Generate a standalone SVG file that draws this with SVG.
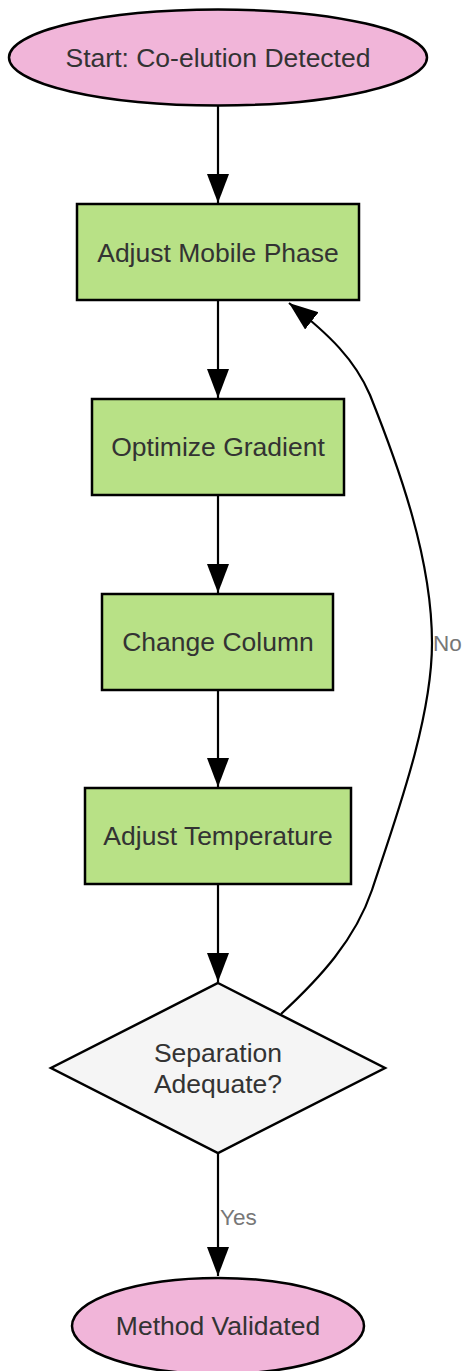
<svg xmlns="http://www.w3.org/2000/svg" width="464" height="1371" viewBox="0 0 464 1371">
<style>
.term{fill:#F1B5D9;stroke:#000;stroke-width:2.5}
.proc{fill:#B8E186;stroke:#000;stroke-width:2.5}
.dec{fill:#F5F5F5;stroke:#000;stroke-width:2.5}
.t{font-family:"Liberation Sans",Arial,sans-serif;font-size:26.5px;fill:#333;text-anchor:middle}
.lbl{font-family:"Liberation Sans",Arial,sans-serif;font-size:22.5px;fill:#777}
.edge{fill:none;stroke:#000;stroke-width:2.2}
</style>
<defs>
<marker id="ah" markerUnits="userSpaceOnUse" markerWidth="30" markerHeight="24" refX="29" refY="11" orient="auto">
<path d="M0,0 L29,11 L0,22 z" fill="#000"/>
</marker>
</defs>
<g id="connectors">
<line class="edge" x1="218" y1="106" x2="218" y2="203" marker-end="url(#ah)"/>
<line class="edge" x1="218" y1="300" x2="218" y2="398" marker-end="url(#ah)"/>
<line class="edge" x1="218" y1="495" x2="218" y2="593" marker-end="url(#ah)"/>
<line class="edge" x1="218" y1="690" x2="218" y2="787" marker-end="url(#ah)"/>
<line class="edge" x1="218" y1="884" x2="218" y2="982" marker-end="url(#ah)"/>
<line class="edge" x1="218" y1="1153" x2="218" y2="1276" marker-end="url(#ah)"/>
<path class="edge" d="M281,1014 C320,978 355,940 372,890 C395,820 432,720 432,643 C432,560 400,470 370,395 C355,360 330,335 289,303" marker-end="url(#ah)"/>
<text class="lbl" x="220" y="1225">Yes</text>
<text class="lbl" x="433" y="651">No</text>
</g>
<g id="start">
<ellipse class="term" cx="218" cy="57.5" rx="209" ry="48"/>
<text class="t" x="218" y="67">Start: Co-elution Detected</text>
</g>
<g id="adjust-mobile-phase">
<rect class="proc" x="77" y="204" width="282" height="96"/>
<text class="t" x="218" y="262">Adjust Mobile Phase</text>
</g>
<g id="optimize-gradient">
<rect class="proc" x="92" y="399" width="252" height="96"/>
<text class="t" x="218" y="456">Optimize Gradient</text>
</g>
<g id="change-column">
<rect class="proc" x="102" y="594" width="231" height="96"/>
<text class="t" x="218" y="651">Change Column</text>
</g>
<g id="adjust-temperature">
<rect class="proc" x="85" y="788" width="266" height="96"/>
<text class="t" x="218" y="845">Adjust Temperature</text>
</g>
<g id="separation-adequate">
<polygon class="dec" points="218,983 385,1068 218,1153 51,1068"/>
<text class="t" x="218" y="1062">Separation</text>
<text class="t" x="218" y="1093">Adequate?</text>
</g>
<g id="method-validated">
<ellipse class="term" cx="218" cy="1326" rx="146" ry="48"/>
<text class="t" x="218" y="1335">Method Validated</text>
</g>
</svg>
